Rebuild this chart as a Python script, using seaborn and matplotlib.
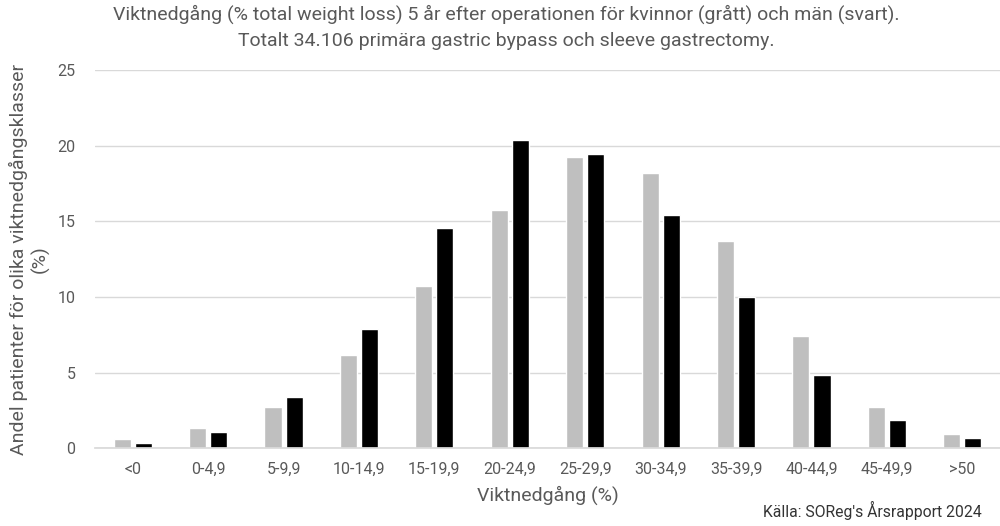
import matplotlib
matplotlib.use("Agg")
import matplotlib.pyplot as plt
import seaborn as sns
import pandas as pd

categories = ["<0", "0-4,9", "5-9,9", "10-14,9", "15-19,9", "20-24,9",
              "25-29,9", "30-34,9", "35-39,9", "40-44,9", "45-49,9", ">50"]
kvinnor = [0.59, 1.32, 2.75, 6.15, 10.73, 15.75, 19.27, 18.22, 13.68, 7.44, 2.71, 0.93]
man = [0.37, 1.10, 3.37, 7.86, 14.54, 20.35, 19.45, 15.44, 9.96, 4.85, 1.85, 0.66]
yticks = [0, 5, 10, 15, 20, 25]

df = pd.DataFrame({
    "kategori": categories * 2,
    "kon": ["Kvinnor"] * len(categories) + ["Män"] * len(categories),
    "andel": kvinnor + man,
})

sns.set_theme(style="white")
plt.rcParams["font.family"] = ["Roboto", "DejaVu Sans"]
txt = "#595959"

fig = plt.figure(figsize=(10, 5.26), dpi=100)
ax = fig.add_axes([0.095, 0.148, 0.905, 0.719])

sns.barplot(data=df, x="kategori", y="andel", hue="kon", order=categories,
            palette={"Kvinnor": "#BFBFBF", "Män": "#000000"},
            width=0.56, gap=0.19, legend=False, ax=ax, saturation=1)

ax.set_ylim(0, 25)
ax.set_xlim(-0.5, len(categories) - 0.5)
ax.set_yticks(yticks)
ax.yaxis.grid(True, color="#D9D9D9", linewidth=1)
ax.set_axisbelow(True)
for s in ["top", "right", "left"]:
    ax.spines[s].set_visible(False)
ax.spines["bottom"].set_color("#D9D9D9")
ax.tick_params(axis="both", length=0, colors=txt, labelsize=11.5)
ax.tick_params(axis="y", pad=14)
ax.tick_params(axis="x", pad=10)

ax.set_xlabel("Viktnedgång (%)", fontsize=14, color=txt, labelpad=6)
ax.set_ylabel("Andel patienter för olika viktnedgångsklasser\n(%)", fontsize=14,
              color=txt, linespacing=1.15)
ax.yaxis.set_label_coords(-0.05, 0.5)

fig.text(0.506, 0.992, "Viktnedgång (% total weight loss) 5 år efter operationen för kvinnor (grått) och män (svart).\nTotalt 34.106 primära gastric bypass och sleeve gastrectomy.",
         ha="center", va="top", fontsize=14, color=txt, linespacing=1.6)
fig.text(0.982, 0.03, "Källa: SOReg's Årsrapport 2024", ha="right", va="center",
         fontsize=11.3, color="#333333")

fig.savefig("out.png", dpi=100)
